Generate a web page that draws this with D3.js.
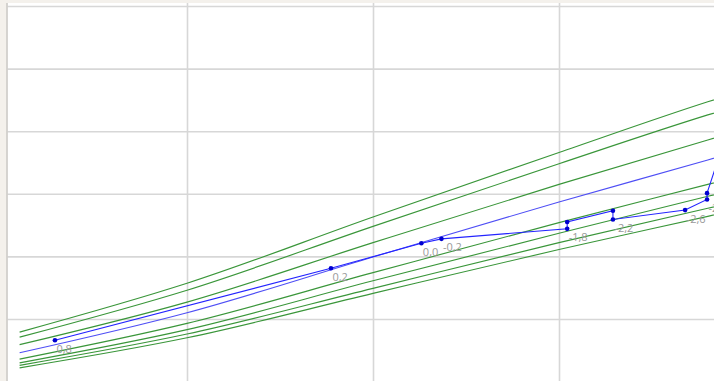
<!DOCTYPE html>
<html>
<head>
<meta charset="utf-8">
<script src="https://cdn.jsdelivr.net/npm/d3@7"></script>
<style>
  html, body { margin: 0; padding: 0; background: #f4f1ec; overflow: hidden; }
  svg { display: block; }
</style>
</head>
<body>
<svg id="chart" width="714" height="381"></svg>
<script>
// Reference curves: weight (kg) tabulated at these lengths (cm)
const curveLengths = [45.5, 50, 55, 60, 64, 65.5];
const upper3 = [2.79, 3.57, 4.63, 5.66, 6.47, 6.75];
const upper2 = [2.71, 3.46, 4.48, 5.48, 6.26, 6.53];
const upper1 = [2.59, 3.27, 4.22, 5.15, 5.86, 6.12];
const median = [2.46, 3.10, 3.99, 4.87, 5.54, 5.80];
const lower1 = [2.36, 2.93, 3.74, 4.54, 5.15, 5.38];
const lower2 = [2.30, 2.83, 3.61, 4.37, 4.96, 5.17];
const lower3 = [2.26, 2.76, 3.49, 4.22, 4.77, 4.97];
const lower4 = [2.22, 2.70, 3.41, 4.11, 4.64, 4.84];

// Child's measurements, in visit order
const measuredLengths = [46.45, 53.87, 56.30, 56.84, 60.22, 60.22, 61.45, 61.45, 63.39, 63.98, 63.98, 64.35];
const measuredWeights = [2.66, 3.81, 4.21, 4.28, 4.44, 4.55, 4.73, 4.59, 4.74, 4.91, 5.01, 5.68];
const zScoreLabels   = ["0,8", "0,2", "0,0", "-0,2", "-1,8", "", "", "-2,2", "-2,6", "-2,9", "", ""];

// Grid positions
const lengthGrid = [45, 50, 55, 60, 65];
const weightGrid = [2, 3, 4, 5, 6, 7, 8];

const W = 714, H = 381;
const frame = { left: 7, top: 3 };

const svg = d3.select("#chart");

const x = d3.scaleLinear().domain([50, 60]).range([187, 559]);
const y = d3.scaleLinear().domain([3, 8]).range([319, 6]);

// Plot background and clip
svg.append("defs").append("clipPath").attr("id", "plotClip")
  .append("rect").attr("x", frame.left).attr("y", frame.top)
  .attr("width", W - frame.left + 20).attr("height", H - frame.top + 20);

svg.append("rect")
  .attr("x", frame.left).attr("y", frame.top)
  .attr("width", W - frame.left + 20).attr("height", H - frame.top + 20)
  .attr("fill", "#ffffff");

const plot = svg.append("g").attr("clip-path", "url(#plotClip)");

// Gridlines through the axis generators
const gridX = plot.append("g")
  .attr("transform", `translate(0,${H + 10})`)
  .call(d3.axisBottom(x).tickValues(lengthGrid).tickSize(H + 20).tickFormat(""));
const gridY = plot.append("g")
  .attr("transform", `translate(${frame.left},0)`)
  .call(d3.axisRight(y).tickValues(weightGrid).tickSize(W + 20).tickFormat(""));
[gridX, gridY].forEach(g => {
  g.select(".domain").remove();
  g.selectAll(".tick line").attr("stroke", "#d7d7d7").attr("stroke-width", 1.6);
});
gridX.selectAll(".tick line").attr("y1", -(H + 30)).attr("y2", 0);

// Frame edge on the left
svg.append("line")
  .attr("x1", frame.left).attr("x2", frame.left)
  .attr("y1", frame.top).attr("y2", H)
  .attr("stroke", "#d2d0cc").attr("stroke-width", 1.8);

// Reference curves
const curveLine = d3.line()
  .x((d, i) => x(curveLengths[i]))
  .y(d => y(d))
  .curve(d3.curveMonotoneX);

const greenCurves = [upper3, upper2, upper1, lower1, lower2, lower3, lower4];
plot.append("g").selectAll("path")
  .data(greenCurves)
  .join("path")
  .attr("d", curveLine)
  .attr("fill", "none")
  .attr("stroke", "#3a963a")
  .attr("stroke-width", 1.15);

plot.append("path")
  .attr("d", curveLine(median))
  .attr("fill", "none")
  .attr("stroke", "#4f4ff5")
  .attr("stroke-width", 1.1);

// Measurements
const points = measuredLengths.map((l, i) => ({ l, w: measuredWeights[i], z: zScoreLabels[i] }));

plot.append("path")
  .datum(points)
  .attr("d", d3.line().x(d => x(d.l)).y(d => y(d.w)))
  .attr("fill", "none")
  .attr("stroke", "#2424ff")
  .attr("stroke-width", 1.1);

plot.append("g").selectAll("circle")
  .data(points)
  .join("circle")
  .attr("cx", d => x(d.l))
  .attr("cy", d => y(d.w))
  .attr("r", 2.3)
  .attr("fill", "#0000d0");

plot.append("g").selectAll("text")
  .data(points.filter(d => d.z !== ""))
  .join("text")
  .attr("x", d => x(d.l) + 1.5)
  .attr("y", d => y(d.w) + 12.5)
  .attr("font-family", "'Open Sans', 'Noto Sans', sans-serif")
  .attr("font-size", 11)
  .attr("fill", "#9a9a9a")
  .text(d => d.z);
</script>
</body>
</html>
